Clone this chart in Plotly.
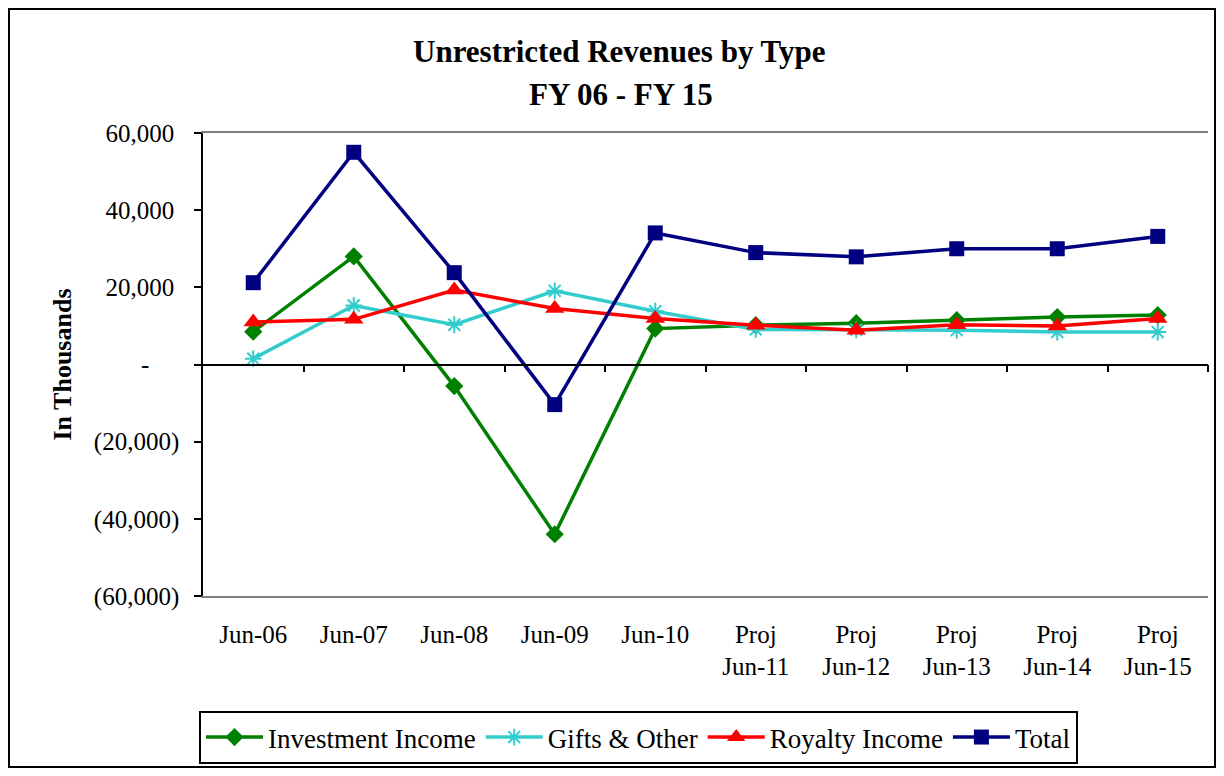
import plotly.graph_objects as go

categories = ["Jun-06", "Jun-07", "Jun-08", "Jun-09", "Jun-10",
              "Proj<br>Jun-11", "Proj<br>Jun-12", "Proj<br>Jun-13", "Proj<br>Jun-14", "Proj<br>Jun-15"]
investment_income = [8500, 28000, -5600, -44000, 9300, 10200, 10700, 11500, 12300, 12800]
gifts_other = [1500, 15300, 10300, 19100, 13800, 9100, 9000, 8900, 8400, 8400]
royalty_income = [11000, 11700, 19300, 14500, 11900, 10200, 8900, 10300, 10000, 11900]
total = [21200, 55000, 23800, -10400, 34100, 29000, 27900, 30000, 30000, 33200]

y_tickvals = [-60000, -40000, -20000, 0, 20000, 40000, 60000]
y_ticktext = ["(60,000)", "(40,000)", "(20,000)", "-\u2002\u2002\u2009",
              "20,000\u2009", "40,000\u2009", "60,000\u2009"]
grid_vals = [-40000, -20000, 20000, 40000]
boundary_vals = [0.5, 1.5, 2.5, 3.5, 4.5, 5.5, 6.5, 7.5, 8.5, 9.5]

FONT = "Liberation Serif"
W, H = 1208, 760
L, R, T, B = 195, 8, 125, 172
PW, PH = W - L - R, H - T - B


def px(fx):
    return (fx - L) / PW


def py(fy):
    return (H - B - fy) / PH


fig = go.Figure()
series = [
    ("Investment Income", investment_income, "#008000", dict(symbol="diamond", size=14)),
    ("Gifts & Other", gifts_other, "#33CCCC", dict(symbol="asterisk-open", size=14, line=dict(width=2, color="#33CCCC"))),
    ("Royalty Income", royalty_income, "#FF0000", dict(symbol="triangle-up", size=17)),
    ("Total", total, "#000080", dict(symbol="square", size=15)),
]
for name, vals, color, mk in series:
    fig.add_trace(go.Scatter(
        x=categories, y=vals, name=name, mode="lines+markers",
        line=dict(color=color, width=3.5),
        marker=dict(color=color, **mk),
    ))

# helper (empty) trace so the zero-level category axis with boundary ticks is drawn
fig.add_trace(go.Scatter(x=[], y=[], xaxis="x2", yaxis="y", showlegend=False,
                         hoverinfo="skip", mode="lines"))

fig.update_layout(
    width=W, height=H,
    margin=dict(l=L, r=R, t=T, b=B, autoexpand=False),
    paper_bgcolor="white", plot_bgcolor="white",
    font=dict(family=FONT, color="#000000", size=25),
    showlegend=True,
    legend=dict(
        orientation="h", x=px(630.5), xanchor="center", y=py(756), yanchor="bottom",
        font=dict(family=FONT, size=27, color="#000000"),
        bordercolor="#000000", borderwidth=2, bgcolor="white",
        itemwidth=57, traceorder="normal",
    ),
    xaxis=dict(
        type="category", showgrid=False, zeroline=False, automargin=False,
        showline=True, linecolor="#808080", linewidth=1.5, mirror=True,
        ticks="", tickfont=dict(family=FONT, size=25, color="#000000"),
        ticklabelstandoff=15,
        range=[-0.5, 9.5],
    ),
    xaxis2=dict(
        overlaying="x", anchor="free", position=0.5, automargin=False,
        range=[-0.5, 9.5], showgrid=False, zeroline=False,
        showline=True, linecolor="#000000", linewidth=1.5,
        ticks="outside", ticklen=7, tickwidth=1.5, tickcolor="#000000",
        tickvals=boundary_vals,
        showticklabels=False,
    ),
    yaxis=dict(
        range=[-60000, 60000], tickvals=y_tickvals, ticktext=y_ticktext,
        showgrid=False, zeroline=False, automargin=False,
        showline=True, linecolor="#000000", linewidth=1.5,
        ticks="outside", ticklen=7, tickwidth=1.5, tickcolor="#000000",
        tickfont=dict(family=FONT, size=25, color="#000000"),
        ticklabelstandoff=10,
    ),
    yaxis2=dict(
        overlaying="y", side="right", range=[-60000, 60000], automargin=False,
        tickvals=grid_vals, showticklabels=False, ticks="",
        showgrid=True, gridcolor="#000000", gridwidth=1.5, zeroline=False,
        showline=True, linecolor="#808080", linewidth=1.5,
    ),
)

fig.add_annotation(text="<b>Unrestricted Revenues by Type</b>", x=px(611), y=py(44),
                   xref="paper", yref="paper", xanchor="center", yanchor="middle",
                   showarrow=False, font=dict(family=FONT, size=31, color="#000000"))
fig.add_annotation(text="<b>FY 06 - FY 15</b>", x=px(613), y=py(87),
                   xref="paper", yref="paper", xanchor="center", yanchor="middle",
                   showarrow=False, font=dict(family=FONT, size=31, color="#000000"))
fig.add_annotation(text="<b>In Thousands</b>", x=px(54), y=0.5, textangle=-90,
                   xref="paper", yref="paper", xanchor="center", yanchor="middle",
                   showarrow=False, font=dict(family=FONT, size=26, color="#000000"))

fig.add_shape(type="rect", xref="paper", yref="paper",
              x0=px(1), x1=px(1207), y0=py(759), y1=py(1),
              line=dict(color="#000000", width=2), layer="below")

fig.write_html("out.html")
